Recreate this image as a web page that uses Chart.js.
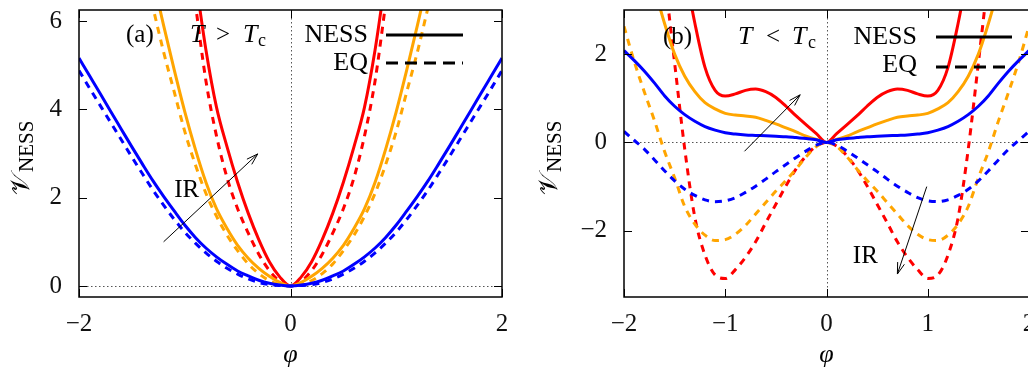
<!DOCTYPE html>
<html>
<head>
<meta charset="utf-8">
<script src="https://cdn.jsdelivr.net/npm/chart.js@4.4.1/dist/chart.umd.min.js"></script>
<style>
  html, body { margin: 0; padding: 0; background: #fff; overflow: hidden; width: 1028px; height: 367px; }
  .panel { position: absolute; top: 0; width: 520px; height: 367px; }
  #wrapA { left: 0; }
  #wrapB { left: 520px; }
</style>
</head>
<body>
<div class="panel" id="wrapA"><canvas id="chartA" width="520" height="367"></canvas></div>
<div class="panel" id="wrapB"><canvas id="chartB" width="520" height="367"></canvas></div>
<script>
// phi values shared by every curve
var phiGrid = [-2.0, -1.9, -1.8, -1.7, -1.6, -1.5, -1.4, -1.3, -1.2, -1.1, -1.0, -0.9, -0.8, -0.7, -0.6, -0.5, -0.4, -0.3, -0.2, -0.1, 0,
               0.1, 0.2, 0.3, 0.4, 0.5, 0.6, 0.7, 0.8, 0.9, 1.0, 1.1, 1.2, 1.3, 1.4, 1.5, 1.6, 1.7, 1.8, 1.9, 2.0];

// panel (a), T > Tc
var blueNessA = [5.16, 4.76, 4.36, 3.95, 3.55, 3.15, 2.76, 2.38, 2.03, 1.7, 1.38, 1.1, 0.86, 0.66, 0.49, 0.34, 0.23, 0.13, 0.06, 0.02, 0,
                 0.02, 0.06, 0.13, 0.23, 0.34, 0.49, 0.66, 0.86, 1.1, 1.38, 1.7, 2.03, 2.38, 2.76, 3.15, 3.55, 3.95, 4.36, 4.76, 5.16];
var blueEqA = [4.88, 4.48, 4.09, 3.7, 3.31, 2.92, 2.54, 2.17, 1.83, 1.51, 1.22, 0.97, 0.75, 0.56, 0.4, 0.27, 0.16, 0.08, 0.03, 0.01, 0,
               0.01, 0.03, 0.08, 0.16, 0.27, 0.4, 0.56, 0.75, 0.97, 1.22, 1.51, 1.83, 2.17, 2.54, 2.92, 3.31, 3.7, 4.09, 4.48, 4.88];
var orangeNessA = [null, null, null, null, null, null, null, 6.95, 5.9, 4.9, 3.95, 3.1, 2.35, 1.75, 1.3, 0.92, 0.63, 0.4, 0.22, 0.08, 0,
                   0.08, 0.22, 0.4, 0.63, 0.92, 1.3, 1.75, 2.35, 3.1, 3.95, 4.9, 5.9, 6.95, null, null, null, null, null, null, null];
var orangeEqA = [null, null, null, null, null, null, 7.3, 6.3, 5.3, 4.4, 3.5, 2.75, 2.1, 1.58, 1.15, 0.8, 0.5, 0.28, 0.12, 0.03, 0,
                 0.03, 0.12, 0.28, 0.5, 0.8, 1.15, 1.58, 2.1, 2.75, 3.5, 4.4, 5.3, 6.3, 7.3, null, null, null, null, null, null];
var redNessA = [null, null, null, null, null, null, null, null, null, null, null, 7.0, 5.35, 4.05, 3.15, 2.35, 1.65, 1.05, 0.55, 0.2, 0,
                0.2, 0.55, 1.05, 1.65, 2.35, 3.15, 4.05, 5.35, 7.0, null, null, null, null, null, null, null, null, null, null, null];
var redEqA = [null, null, null, null, null, null, null, null, null, null, 8.2, 6.4, 4.65, 3.4, 2.45, 1.75, 1.2, 0.72, 0.35, 0.1, 0,
              0.1, 0.35, 0.72, 1.2, 1.75, 2.45, 3.4, 4.65, 6.4, 8.2, null, null, null, null, null, null, null, null, null, null];

// panel (b), T < Tc
var blueNessB = [2.08, 1.86, 1.62, 1.35, 1.06, 0.82, 0.63, 0.48, 0.36, 0.28, 0.22, 0.19, 0.17, 0.16, 0.15, 0.14, 0.13, 0.11, 0.09, 0.06, 0,
                 0.06, 0.09, 0.11, 0.13, 0.14, 0.15, 0.16, 0.17, 0.19, 0.22, 0.28, 0.36, 0.48, 0.63, 0.82, 1.06, 1.35, 1.62, 1.86, 2.08];
var blueEqB = [0.25, 0.05, -0.15, -0.39, -0.64, -0.87, -1.06, -1.2, -1.3, -1.34, -1.32, -1.25, -1.13, -0.99, -0.83, -0.66, -0.5, -0.34, -0.19, -0.06, 0,
               -0.06, -0.19, -0.34, -0.5, -0.66, -0.83, -0.99, -1.13, -1.25, -1.32, -1.34, -1.3, -1.2, -1.06, -0.87, -0.64, -0.39, -0.15, 0.05, 0.25];
var orangeNessB = [null, null, null, 3.5, 2.7, 2.0, 1.5, 1.15, 0.9, 0.76, 0.66, 0.62, 0.6, 0.57, 0.5, 0.42, 0.33, 0.24, 0.14, 0.07, 0,
                   0.07, 0.14, 0.24, 0.33, 0.42, 0.5, 0.57, 0.6, 0.62, 0.66, 0.76, 0.9, 1.15, 1.5, 2.0, 2.7, 3.5, null, null, null];
var orangeEqB = [2.63, 1.84, 1.15, 0.5, -0.2, -0.8, -1.45, -1.85, -2.1, -2.22, -2.2, -2.08, -1.88, -1.62, -1.36, -1.1, -0.86, -0.6, -0.32, -0.09, 0,
                 -0.09, -0.32, -0.6, -0.86, -1.1, -1.36, -1.62, -1.88, -2.08, -2.2, -2.22, -2.1, -1.85, -1.45, -0.8, -0.2, 0.5, 1.15, 1.84, 2.63];
var redNessB = [null, null, null, null, null, null, 3.9, 2.7, 1.7, 1.18, 1.05, 1.1, 1.18, 1.21, 1.15, 1.02, 0.82, 0.6, 0.4, 0.2, 0,
                0.2, 0.4, 0.6, 0.82, 1.02, 1.15, 1.21, 1.18, 1.1, 1.05, 1.18, 1.7, 2.7, 3.9, null, null, null, null, null, null];
var redEqB = [null, null, null, null, 3.8, 1.8, -0.15, -1.7, -2.55, -3.0, -3.08, -2.88, -2.6, -2.25, -1.82, -1.4, -0.98, -0.6, -0.3, -0.08, 0,
              -0.08, -0.3, -0.6, -0.98, -1.4, -1.82, -2.25, -2.6, -2.88, -3.08, -3.0, -2.55, -1.7, -0.15, 1.8, 3.8, null, null, null, null];

// ticks
var xTicksA = [-2, 0, 2];
var yTicksA = [0, 2, 4, 6];
var xTicksB = [-2, -1, 0, 1, 2];
var yTicksB = [-2, 0, 2];

// "IR" arrows, (phi, V) of tail and head
var arrowsA = [[-1.2, 1.0, -0.31, 2.99]];
var arrowsB = [[-0.81, -0.2, -0.26, 1.08], [0.99, -1.0, 0.70, -2.98]];
var irLabelA = [-1.10, 2.02];
var irLabelB = [0.26, -2.73];

var BLUE = '#0000ff', ORANGE = '#ffa500', RED = '#ff0000';
var SERIF = "'Liberation Serif', 'DejaVu Serif', serif";

function fmtTick(v) {
    return v < 0 ? '\u2212' + (-v) : String(v);
}

function txt(ctx, s, x, y, size, italic, align) {
    ctx.font = (italic ? 'italic ' : '') + size + 'px ' + SERIF;
    ctx.textAlign = align || 'left';
    ctx.fillText(s, x, y);
}

function arrow(ctx, x1, y1, x2, y2) {
    var ang = Math.atan2(y2 - y1, x2 - x1), h = 12, w = 0.3;
    ctx.beginPath();
    ctx.moveTo(x1, y1);
    ctx.lineTo(x2, y2);
    ctx.moveTo(x2 - h * Math.cos(ang - w), y2 - h * Math.sin(ang - w));
    ctx.lineTo(x2, y2);
    ctx.lineTo(x2 - h * Math.cos(ang + w), y2 - h * Math.sin(ang + w));
    ctx.stroke();
}

function makeDecor(d) {
    return {
        id: 'decor',
        beforeDatasetsDraw: function(chart) {
            var ctx = chart.ctx, a = chart.chartArea;
            var x0 = Math.round(chart.scales.x.getPixelForValue(0)) + 0.5;
            var y0 = Math.round(chart.scales.y.getPixelForValue(0)) + 0.5;
            ctx.save();
            ctx.strokeStyle = '#555';
            ctx.lineWidth = 1;
            ctx.setLineDash([1.5, 2.5]);
            ctx.beginPath();
            ctx.moveTo(a.left, y0); ctx.lineTo(a.right, y0);
            ctx.moveTo(x0, a.top); ctx.lineTo(x0, a.bottom);
            ctx.stroke();
            ctx.restore();
        },
        afterDraw: function(chart) {
            var ctx = chart.ctx, a = chart.chartArea;
            var xs = chart.scales.x, ys = chart.scales.y;
            ctx.save();
            ctx.setLineDash([]);
            ctx.strokeStyle = '#000';
            ctx.fillStyle = '#000';

            // inward tick marks on all four sides
            ctx.lineWidth = 1;
            ctx.beginPath();
            xs.ticks.forEach(function(t) {
                var px = Math.round(xs.getPixelForValue(t.value)) + 0.5;
                ctx.moveTo(px, a.bottom); ctx.lineTo(px, a.bottom - 8);
                ctx.moveTo(px, a.top); ctx.lineTo(px, a.top + 8);
            });
            ys.ticks.forEach(function(t) {
                var py = Math.round(ys.getPixelForValue(t.value)) + 0.5;
                ctx.moveTo(a.left, py); ctx.lineTo(a.left + 8, py);
                ctx.moveTo(a.right, py); ctx.lineTo(a.right - 8, py);
            });
            ctx.stroke();

            // frame
            ctx.lineWidth = 1.5;
            ctx.strokeRect(a.left, a.top, a.right - a.left, a.bottom - a.top);

            // arrows and IR
            ctx.lineWidth = 1;
            d.arrows.forEach(function(r) {
                arrow(ctx, xs.getPixelForValue(r[0]), ys.getPixelForValue(r[1]),
                      xs.getPixelForValue(r[2]), ys.getPixelForValue(r[3]));
            });
            ctx.textBaseline = 'alphabetic';
            txt(ctx, 'IR', xs.getPixelForValue(d.ir[0]), ys.getPixelForValue(d.ir[1]), 25, false);

            // panel label and temperature
            txt(ctx, d.label, d.labelX, d.textY, 25, false);
            txt(ctx, 'T', d.relX[0], d.textY, 26, true);
            txt(ctx, d.rel, d.relX[1], d.textY, 25, false);
            txt(ctx, 'T', d.relX[2], d.textY, 26, true);
            txt(ctx, 'c', d.relX[3], d.textY + 4, 18, false);

            // key
            txt(ctx, 'NESS', d.keyRight, d.textY, 26, false, 'right');
            txt(ctx, 'EQ', d.keyRight, d.textY + 28, 26, false, 'right');
            ctx.lineWidth = 3;
            ctx.beginPath();
            ctx.moveTo(d.keyLine[0], d.keyLineY[0]); ctx.lineTo(d.keyLine[1], d.keyLineY[0]);
            ctx.stroke();
            ctx.setLineDash([12, 7]);
            ctx.beginPath();
            ctx.moveTo(d.keyLine[0], d.keyLineY[1]); ctx.lineTo(d.keyLine[1], d.keyLineY[1]);
            ctx.stroke();
            ctx.setLineDash([]);

            // axis titles
            ctx.textBaseline = 'middle';
            txt(ctx, '\u03C6', (a.left + a.right) / 2, 355, 26, true, 'center');
            ctx.textBaseline = 'alphabetic';
            ctx.translate(d.yTitleX, 195);
            ctx.rotate(-Math.PI / 2);
            txt(ctx, '\uD835\uDCB1', 0, 0, 26, false);
            var vw = ctx.measureText('\uD835\uDCB1').width;
            txt(ctx, 'NESS', vw + 1, 4, 21, false);
            ctx.restore();
        }
    };
}

function makeChart(id, series, xTicks, yTicks, yMin, yMax, yAxisWidth, padRight, decor) {
    var datasets = series.map(function(s) {
        return {
            data: phiGrid.map(function(x, i) { return { x: x, y: s.values[i] }; }),
            borderColor: s.color,
            borderWidth: 3,
            borderDash: s.eq ? [7, 6] : [],
            pointRadius: 0,
            showLine: true,
            fill: false,
            spanGaps: false,
            cubicInterpolationMode: 'monotone'
        };
    });
    var tickFont = { family: SERIF, size: 25 };
    return new Chart(document.getElementById(id), {
        type: 'scatter',
        data: { datasets: datasets },
        options: {
            responsive: false,
            animation: false,
            devicePixelRatio: 1,
            layout: { padding: { top: 10, right: padRight, left: 0, bottom: 0 } },
            plugins: { legend: { display: false }, tooltip: { enabled: false } },
            scales: {
                x: {
                    type: 'linear', min: -2, max: 2,
                    border: { display: false },
                    grid: { display: false, drawTicks: false },
                    ticks: { padding: 12, color: '#111', font: tickFont, maxRotation: 0, autoSkip: false, callback: fmtTick },
                    afterBuildTicks: function(s) { s.ticks = xTicks.map(function(v) { return { value: v }; }); },
                    afterFit: function(s) { s.height = 70; s.paddingLeft = 0; s.paddingRight = 0; }
                },
                y: {
                    type: 'linear', min: yMin, max: yMax,
                    border: { display: false },
                    grid: { display: false, drawTicks: false },
                    ticks: { padding: 17, color: '#111', font: tickFont, autoSkip: false, callback: fmtTick },
                    afterBuildTicks: function(s) { s.ticks = yTicks.map(function(v) { return { value: v }; }); },
                    afterFit: function(s) { s.width = yAxisWidth; s.paddingTop = 0; s.paddingBottom = 0; }
                }
            }
        },
        plugins: [decor]
    });
}

makeChart('chartA', [
    { values: blueNessA, color: BLUE },
    { values: blueEqA, color: BLUE, eq: true },
    { values: orangeNessA, color: ORANGE },
    { values: orangeEqA, color: ORANGE, eq: true },
    { values: redNessA, color: RED },
    { values: redEqA, color: RED, eq: true }
], xTicksA, yTicksA, -0.25, 6.25, 79, 18, makeDecor({
    arrows: arrowsA, ir: irLabelA,
    label: '(a)', labelX: 126, textY: 42,
    rel: '>', relX: [190, 216, 243, 258],
    keyRight: 368, keyLine: [386, 463], keyLineY: [35, 63],
    yTitleX: 29
}));

makeChart('chartB', [
    { values: blueNessB, color: BLUE },
    { values: blueEqB, color: BLUE, eq: true },
    { values: orangeNessB, color: ORANGE },
    { values: orangeEqB, color: ORANGE, eq: true },
    { values: redNessB, color: RED },
    { values: redEqB, color: RED, eq: true }
], xTicksB, yTicksB, -3.5, 3, 104, 11, makeDecor({
    arrows: arrowsB, ir: irLabelB,
    label: '(b)', labelX: 143, textY: 44,
    rel: '<', relX: [218, 246, 272, 288],
    keyRight: 397, keyLine: [416, 492], keyLineY: [37, 67],
    yTitleX: 37
}));
</script>
</body>
</html>
